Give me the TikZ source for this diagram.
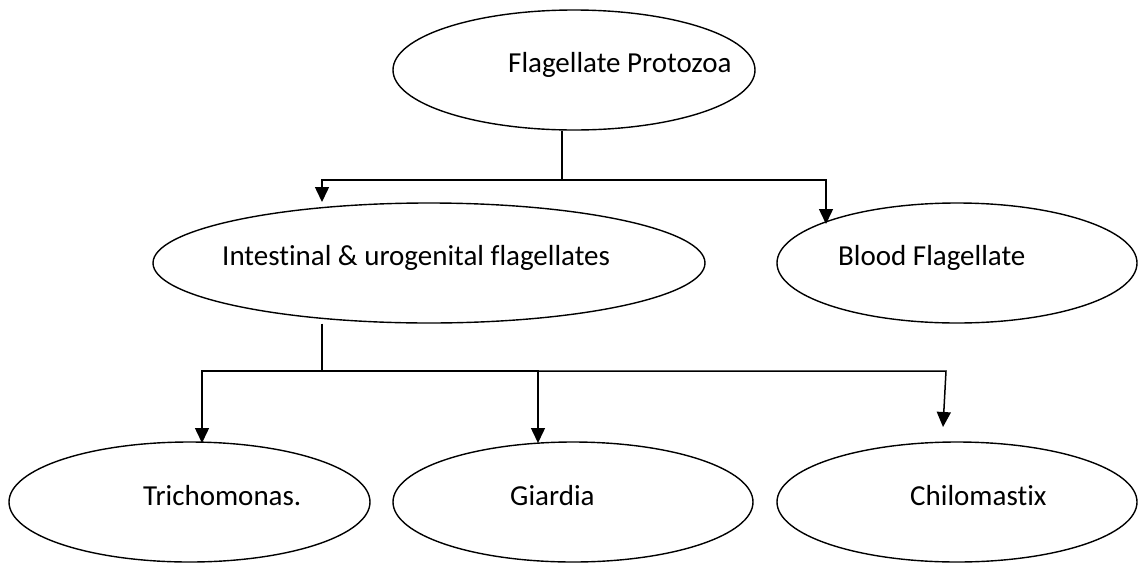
\documentclass[tikz,border=0pt]{standalone}
\usepackage{fontspec}
\setmainfont{Carlito}[RawFeature={-liga;-clig}]
\usetikzlibrary{shapes.geometric,arrows.meta}
\begin{document}
\begin{tikzpicture}[x=1pt,y=-1pt,
  oval/.style={draw,ellipse,line width=1.4pt,inner sep=0pt},
  lbl/.style={anchor=base west,inner sep=0pt,font=\fontsize{29}{35}\selectfont},
  conn/.style={line width=1.5pt},
  arr/.style={conn,-{Triangle[width=14pt,length=15pt]}}]
\useasboundingbox (0,0) rectangle (1141,563);
% ellipses
\node[oval,minimum width=362pt,minimum height=120pt] (top) at (574,70) {};
\node[oval,minimum width=552pt,minimum height=120pt] (int) at (429,263) {};
\node[oval,minimum width=360pt,minimum height=120pt] (blood) at (957,263) {};
\node[oval,minimum width=361pt,minimum height=120pt] (tri) at (189.5,502) {};
\node[oval,minimum width=360pt,minimum height=120pt] (gia) at (573,502) {};
\node[oval,minimum width=360pt,minimum height=120pt] (chi) at (957,502) {};
% labels
\node[lbl] (ltop) at (508,72) {Flagellate Protozoa};
\node[lbl] (lint) at (222,265) {Intestinal \& urogenital flagellates};
\node[lbl] (lblood) at (838,265) {Blood Flagellate};
\node[lbl] (ltri) at (143,505) {Trichomonas.};
\node[lbl] (lgia) at (510,505) {Giardia};
\node[lbl] (lchi) at (910,505) {Chilomastix};
% junctions and arrow tips
\coordinate (j1) at (562,180);
\coordinate (t1) at (322,202);
\coordinate (t2) at (826,224);
\coordinate (j2) at (322,371);
\coordinate (t3) at (202,443);
\coordinate (t4) at (538,443);
\coordinate (c5) at (946,371);
\coordinate (t5) at (943,427);
% connectors
\draw[conn] (top.south -| j1) -- (j1);
\draw[arr] (j1) -| (t1);
\draw[arr] (j1) -| (t2);
\draw[conn] (int.south -| j2) -- (j2);
\draw[arr] (j2) -| (t3);
\draw[arr] (j2) -| (t4);
\draw[arr] (j2) -- (c5) -- (t5);
\end{tikzpicture}
\end{document}
